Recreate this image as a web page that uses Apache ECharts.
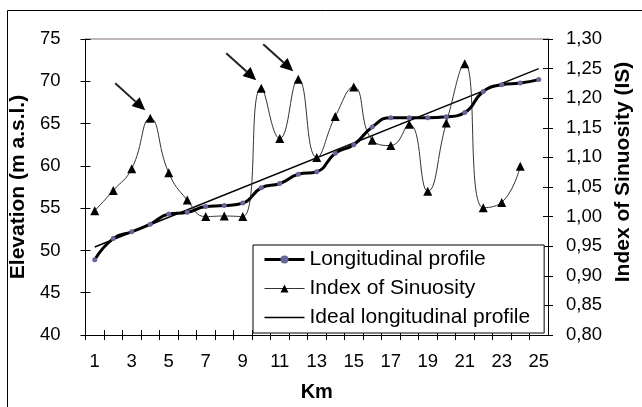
<!DOCTYPE html>
<html><head><meta charset="utf-8">
<script src="https://cdn.jsdelivr.net/npm/echarts@6/dist/echarts.min.js"></script>
<style>html,body{margin:0;padding:0;background:#fff}#c{width:642px;height:407px}</style>
</head><body><div id="c"></div>
<script>
// Categories (Km)
const kmLabels = ['1','2','3','4','5','6','7','8','9','10','11','12','13','14','15','16','17','18','19','20','21','22','23','24','25'];
// Longitudinal profile elevation (m a.s.l.)
const longitudinalProfile = [48.9,51.4,52.2,53.1,54.3,54.5,55.2,55.3,55.6,57.4,57.9,59.0,59.3,61.5,62.5,64.6,65.7,65.7,65.7,65.8,66.3,68.8,69.6,69.8,70.2];
// Index of Sinuosity (IS)
const sinuosityIndex = [1.010,1.044,1.081,1.166,1.074,1.028,1.000,1.001,1.000,1.217,1.132,1.232,1.100,1.169,1.219,1.129,1.120,1.156,1.043,1.158,1.258,1.015,1.024,1.085,null];
// Ideal longitudinal profile: straight line between first and last km
const idealProfile = [50.4,null,null,null,null,null,null,null,null,null,null,null,null,null,null,null,null,null,null,null,null,null,null,null,71.5];
// Peaks marked with arrows (category indexes)
const arrowPeaks = [3, 9, 11];

const FONT = "'Liberation Sans', Arial, sans-serif";
const chart = echarts.init(document.getElementById('c'), null, {renderer: 'canvas'});
const axisLineStyle = {color: '#000', width: 1};
const option = {
  backgroundColor: '#fff',
  animation: false,
  textStyle: {fontFamily: FONT, color: '#000'},
  grid: {left: 83, right: 88, top: 39, bottom: 65},
  legend: {
    orient: 'vertical', left: 253, top: 245,
    padding: [4, 14, 5, 10],
    itemWidth: 40, itemHeight: 10, itemGap: 8,
    borderColor: '#000', borderWidth: 1, backgroundColor: '#fff',
    textStyle: {fontFamily: FONT, fontSize: 21, color: '#000', lineHeight: 21},
    data: [
      {name: 'Longitudinal profile', itemStyle: {color: '#66669a', borderWidth: 0}, lineStyle: {color: '#000', width: 3}},
      {name: 'Index of Sinuosity', itemStyle: {color: '#000', borderWidth: 0}, lineStyle: {color: '#333', width: 1}},
      {name: 'Ideal longitudinal profile', itemStyle: {opacity: 0}, lineStyle: {color: '#000', width: 1.5}}
    ]
  },
  xAxis: [
    {type: 'category', data: kmLabels, position: 'bottom', boundaryGap: true,
     name: 'Km', nameLocation: 'middle', nameGap: 47,
     nameTextStyle: {fontFamily: FONT, fontSize: 20, fontWeight: 'bold', color: '#000'},
     axisLine: {lineStyle: axisLineStyle},
     axisTick: {show: true, interval: 0, length: 5, lineStyle: axisLineStyle},
     axisLabel: {interval: 1, margin: 17, fontSize: 18.5, color: '#000', fontFamily: FONT},
     splitLine: {show: false}},
    {type: 'category', data: kmLabels, position: 'bottom', boundaryGap: true,
     axisLine: {show: false},
     axisTick: {show: true, inside: true, interval: 0, length: 5, lineStyle: axisLineStyle},
     axisLabel: {show: false}, splitLine: {show: false}},
    {type: 'category', data: kmLabels, position: 'top', boundaryGap: true,
     axisLine: {lineStyle: {color: '#a8a0a0', width: 1.5}},
     axisTick: {show: false}, axisLabel: {show: false}, splitLine: {show: false}}
  ],
  yAxis: [
    {type: 'value', position: 'left', min: 40, max: 75, interval: 5,
     name: 'Elevation (m a.s.l.)', nameLocation: 'middle', nameGap: 52, nameRotate: 90,
     nameTextStyle: {fontFamily: FONT, fontSize: 21, fontWeight: 'bold', color: '#000'},
     axisLine: {show: true, lineStyle: axisLineStyle},
     axisTick: {show: true, length: 5, lineStyle: axisLineStyle},
     axisLabel: {margin: 25, fontSize: 18.5, color: '#000', fontFamily: FONT},
     splitLine: {show: false}},
    {type: 'value', position: 'right', min: 0.8, max: 1.3, interval: 0.05,
     name: 'Index of Sinuosity (IS)', nameLocation: 'middle', nameGap: 65, nameRotate: 90,
     nameTextStyle: {fontFamily: FONT, fontSize: 21, fontWeight: 'bold', color: '#000', padding: [0, 0, 0, 30]},
     axisLine: {show: true, lineStyle: axisLineStyle},
     axisTick: {show: true, length: 5, lineStyle: axisLineStyle},
     axisLabel: {margin: 18, fontSize: 18.5, color: '#000', fontFamily: FONT,
                 formatter: v => v.toFixed(2).replace('.', ',')},
     splitLine: {show: false}},
    {type: 'value', position: 'left', min: 40, max: 75, interval: 5,
     axisLine: {show: false}, axisTick: {show: true, inside: true, length: 5, lineStyle: axisLineStyle},
     axisLabel: {show: false}, splitLine: {show: false}},
    {type: 'value', position: 'right', min: 0.8, max: 1.3, interval: 0.05,
     axisLine: {show: false}, axisTick: {show: true, inside: true, length: 5, lineStyle: axisLineStyle},
     axisLabel: {show: false}, splitLine: {show: false}}
  ],
  series: [
    {name: 'Ideal longitudinal profile', type: 'line', xAxisIndex: 0, yAxisIndex: 0,
     data: idealProfile, connectNulls: true, symbol: 'none',
     lineStyle: {color: '#000', width: 1.5}, itemStyle: {color: '#000'}, z: 2},
    {name: 'Index of Sinuosity', type: 'line', xAxisIndex: 0, yAxisIndex: 1,
     data: sinuosityIndex, smooth: 0.5, symbol: 'triangle', symbolSize: 9, showSymbol: true,
     lineStyle: {color: '#333', width: 1}, itemStyle: {color: '#000'}, z: 3},
    {name: 'Longitudinal profile', type: 'line', xAxisIndex: 0, yAxisIndex: 0,
     data: longitudinalProfile, smooth: 0.5, symbol: 'circle', symbolSize: 5, showSymbol: true,
     lineStyle: {color: '#000', width: 3}, itemStyle: {color: '#66669a', borderWidth: 0}, z: 4}
  ]
};
chart.setOption(option);

// Arrows pointing at sinuosity peaks + outer frame
const elements = [{type: 'rect', shape: {x: 7.5, y: 10.5, width: 700, height: 500},
  style: {fill: 'none', stroke: '#000', lineWidth: 1}, silent: true}];
arrowPeaks.forEach(i => {
  const p = chart.convertToPixel({xAxisIndex: 0, yAxisIndex: 1}, [i, sinuosityIndex[i]]);
  const tail = [p[0] - 35, p[1] - 35];
  const tip = [p[0] - 5, p[1] - 8];
  const dx = tip[0] - tail[0], dy = tip[1] - tail[1];
  const len = Math.sqrt(dx * dx + dy * dy);
  const ux = dx / len, uy = dy / len;
  const hl = 13, hw = 6;
  const base = [tip[0] - ux * hl, tip[1] - uy * hl];
  elements.push({type: 'line', shape: {x1: tail[0], y1: tail[1], x2: base[0], y2: base[1]},
    style: {stroke: '#222', lineWidth: 2}, silent: true, z: 10});
  elements.push({type: 'polygon', shape: {points: [tip,
    [base[0] - uy * hw, base[1] + ux * hw], [base[0] + uy * hw, base[1] - ux * hw]]},
    style: {fill: '#000'}, silent: true, z: 10});
});
chart.setOption({graphic: elements});
</script>
</body></html>
